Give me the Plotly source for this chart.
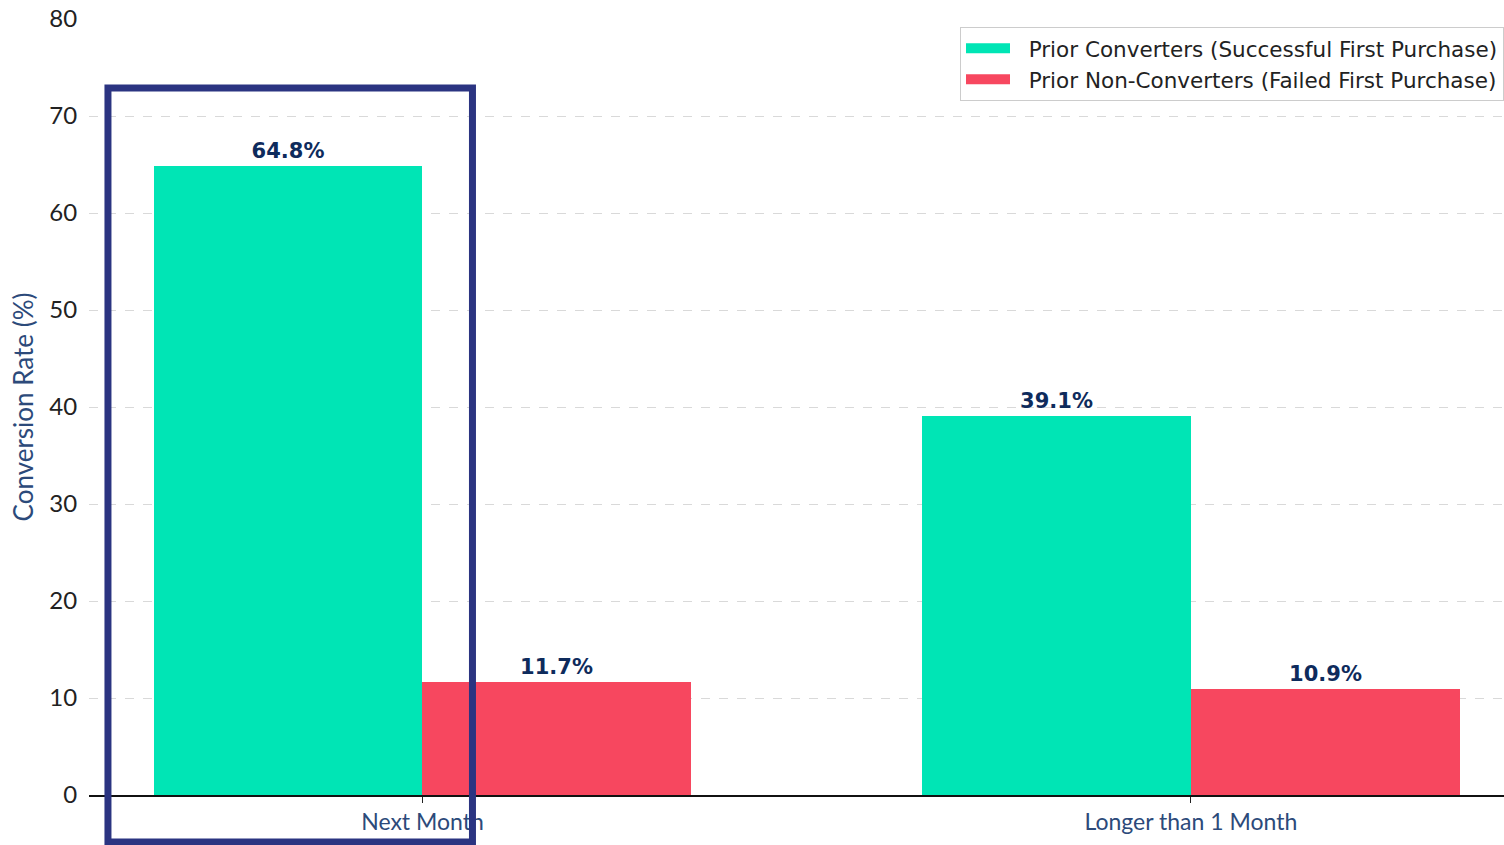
import plotly.graph_objects as go

categories = ["Next Month", "Longer than 1 Month"]
converters = [64.8, 39.1]
non_converters = [11.7, 10.9]
series_names = [
    "Prior Converters (Successful First Purchase)",
    "Prior Non-Converters (Failed First Purchase)",
]
y_ticks = [0, 10, 20, 30, 40, 50, 60, 70, 80]

GREEN = "#00E5B5"
RED = "#F7475F"
LABEL = "#0E2B5C"
AXIS_TEXT = "#2C4A7A"

x_idx = list(range(len(categories)))
bar_w = 0.35

fig = go.Figure()
for vals, name, color, off in [
    (converters, series_names[0], GREEN, -bar_w / 2),
    (non_converters, series_names[1], RED, bar_w / 2),
]:
    fig.add_trace(go.Bar(
        x=[i + off for i in x_idx],
        y=vals,
        width=bar_w,
        name=name,
        showlegend=False,
        marker=dict(color=color, line=dict(width=0)),
        text=[f"{v:.1f}%" for v in vals],
        textposition="outside",
        cliponaxis=False,
        textfont=dict(family="DejaVu Sans", size=21, color=LABEL, weight="bold"),
    ))
    # wide rectangular legend swatch for each series
    fig.add_trace(go.Scatter(
        x=[None], y=[None], mode="lines", name="\u00a0\u00a0" + name,
        line=dict(color=color, width=14),
    ))

# highlight box around the first group's leading bar (paper coords, unclipped)
fig.add_shape(
    type="rect", xref="paper", yref="paper",
    x0=0.0134, x1=0.2710, y0=-0.0606, y1=0.9111,
    line=dict(color="#2B3481", width=7),
    fillcolor="rgba(0,0,0,0)",
    layer="above",
)

fig.update_layout(
    width=1504, height=845,
    margin=dict(l=89, r=0, t=19, b=50),
    paper_bgcolor="white",
    plot_bgcolor="white",
    bargap=0,
    showlegend=True,
    legend=dict(
        x=1.0, y=0.99, xanchor="right", yanchor="top",
        bgcolor="rgba(255,255,255,0.9)",
        bordercolor="#CCCCCC", borderwidth=1,
        font=dict(family="DejaVu Sans", size=21.5, color="#222222"),
        itemwidth=44,
        tracegroupgap=2,
    ),
    xaxis=dict(
        range=[-0.434, 1.4076],
        tickmode="array",
        tickvals=x_idx,
        ticktext=categories,
        ticks="outside", ticklen=6, tickcolor="#222222",
        tickfont=dict(family="Lato", size=23, color=AXIS_TEXT),
        showline=True, linecolor="#111111", linewidth=1.5,
        showgrid=False, zeroline=False,
    ),
    yaxis=dict(
        range=[0, 80],
        tickmode="array",
        tickvals=y_ticks,
        ticks="outside", ticklen=6, tickcolor="rgba(0,0,0,0)",
        tickfont=dict(family="Lato", size=24, color="#222222"),
        showgrid=True, gridcolor="#D9D9D9", griddash="dash", gridwidth=1,
        zeroline=False, showline=False,
        title=dict(text="Conversion Rate (%)",
                   font=dict(family="Lato", size=26, color=AXIS_TEXT),
                   standoff=8),
    ),
)

fig.write_html("out.html")
